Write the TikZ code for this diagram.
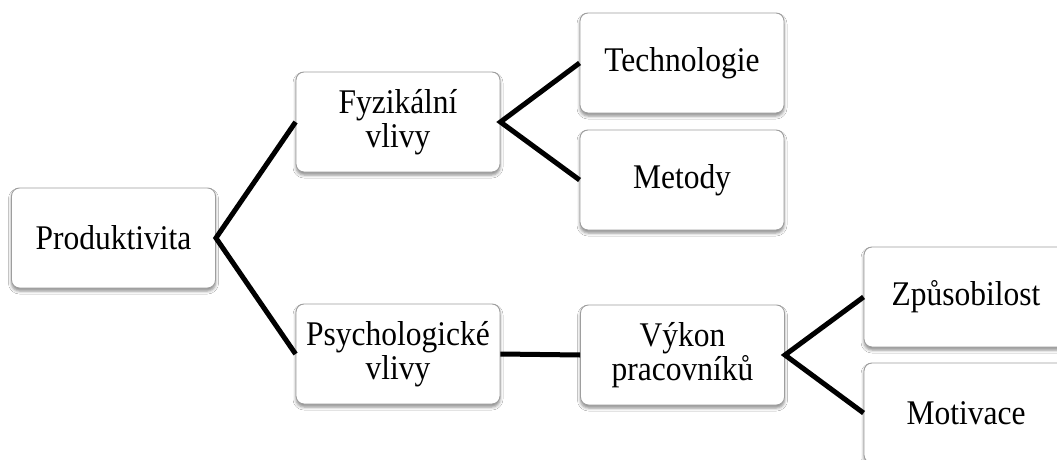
\documentclass[tikz,border=0pt]{standalone}
\usepackage{fontspec}
\setmainfont{Liberation Serif}[FakeStretch=0.91]
\usetikzlibrary{shadows.blur}
\tikzset{
  box/.style={draw=black!38, line width=0.9pt, fill=white, rounded corners=8pt,
    minimum width=204pt, minimum height=100pt, align=center, inner sep=2pt,
    font=\fontsize{34.6}{34}\selectfont,
    blur shadow={shadow xshift=0pt, shadow yshift=-3pt, shadow blur radius=3pt, shadow opacity=45}},
  link/.style={line width=5pt, black, line join=miter}
}
\begin{document}
\begin{tikzpicture}[x=1pt, y=-1pt]
  \useasboundingbox (0,0) rectangle (1057,460);
  \clip (0,0) rectangle (1057,460);
  \fill[white] (0,0) rectangle (1057,460);
  % hierarchy boxes
  \node[box] (prod) at (113.5,238) {Produktivita};
  \node[box] (fyz)  at (398,122) {Fyzikální\\vlivy};
  \node[box] (psy)  at (398,354) {Psychologické\\vlivy};
  \node[box] (tech) at (682,63)  {Technologie};
  \node[box] (met)  at (682,180) {Metody};
  \node[box] (vyk)  at (682.5,355) {Výkon\\pracovníků};
  \node[box] (zpu)  at (966,297) {Způsobilost};
  \node[box] (mot)  at (966,413) {Motivace};
  % connectors
  \draw[link] (fyz.west) -- (prod.east) -- (psy.west);
  \draw[link] (tech.west) -- (fyz.east) -- (met.west);
  \draw[link] (psy.east) -- (vyk.west);
  \draw[link] (zpu.west) -- (vyk.east) -- (mot.west);
\end{tikzpicture}
\end{document}
